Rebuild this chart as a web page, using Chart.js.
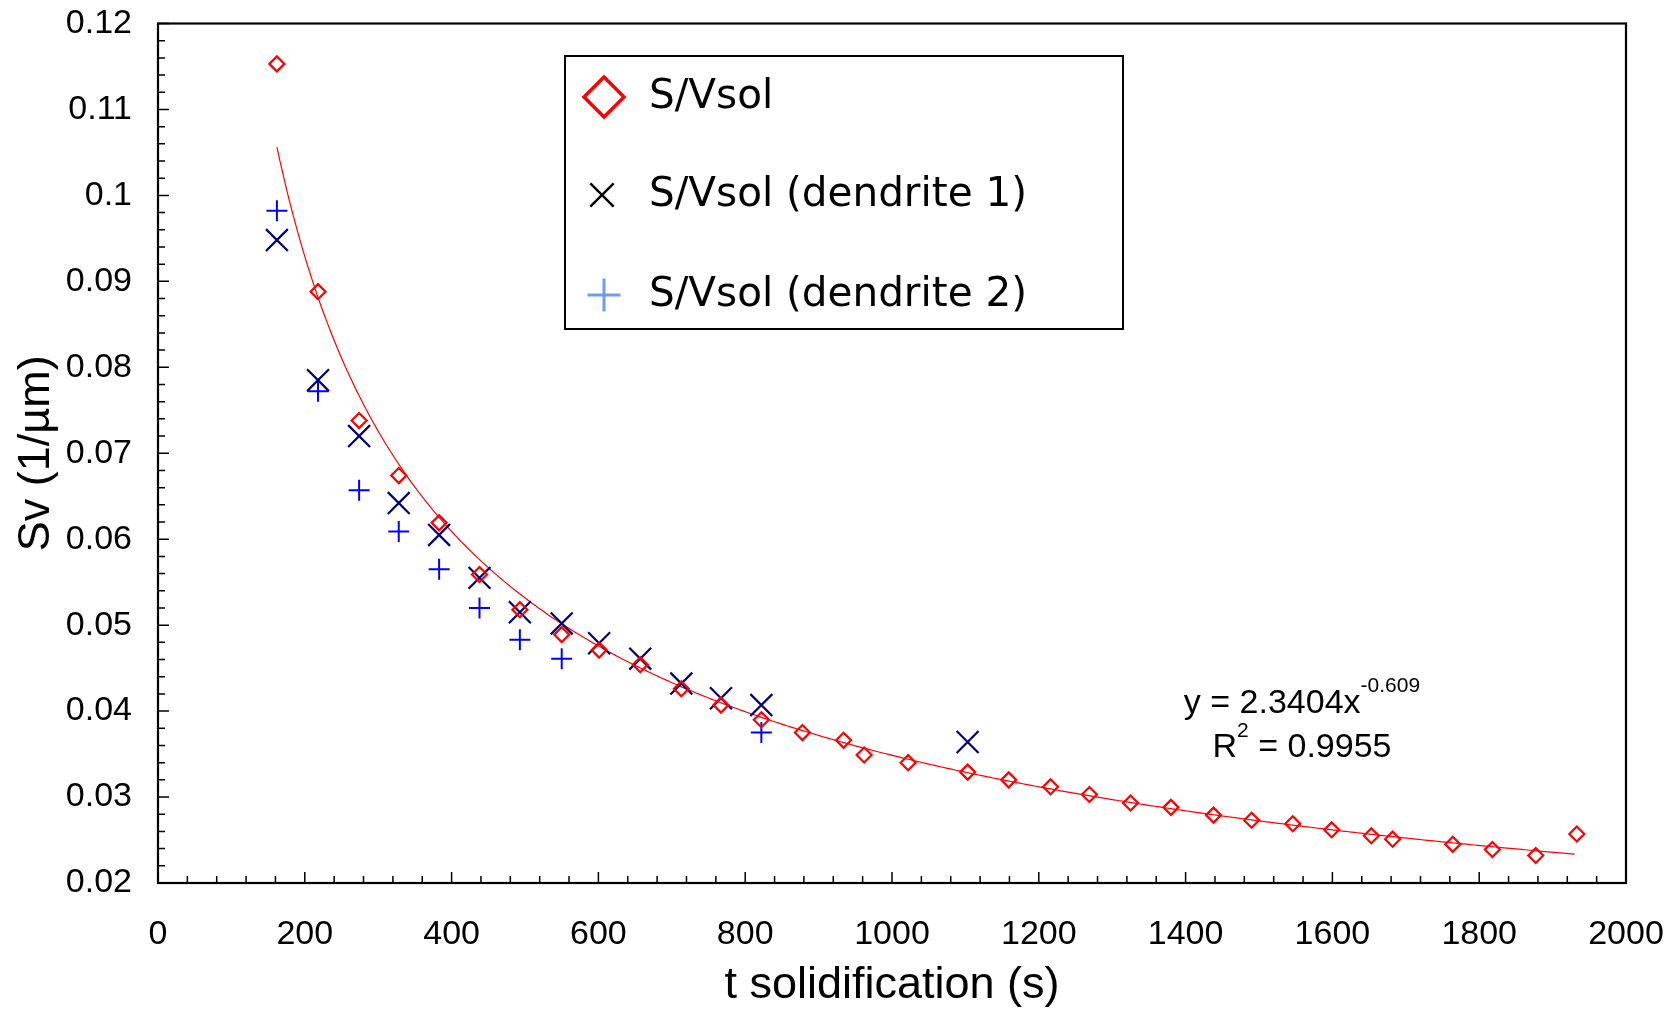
<!DOCTYPE html>
<html><head><meta charset="utf-8">
<script src="https://cdn.jsdelivr.net/npm/chart.js@4/dist/chart.umd.min.js"></script>
<style>html,body{margin:0;padding:0;background:#fff;}#wrap{width:1677px;height:1010px;}</style>
</head><body><div id="wrap"><canvas id="c" width="1677" height="1010"></canvas></div>
<script>
// ---- data ----
const seriesLabels = ['S/Vsol', 'S/Vsol (dendrite 1)', 'S/Vsol (dendrite 2)'];
const svolT  = [162, 218, 274, 328, 383, 438, 493, 550, 601, 657, 713, 767, 822, 878, 934, 962, 1022, 1103, 1159, 1216, 1269, 1325, 1380, 1438, 1490, 1546, 1599, 1653, 1682, 1764, 1818, 1877, 1933];
const svolSv = [0.1153, 0.0888, 0.0738, 0.0674, 0.0619, 0.0559, 0.0518, 0.0489, 0.0471, 0.0454, 0.0426, 0.0407, 0.0390, 0.0375, 0.0366, 0.0349, 0.0340, 0.0329, 0.0320, 0.0312, 0.0303, 0.0293, 0.0288, 0.0279, 0.0273, 0.0269, 0.0262, 0.0255, 0.0251, 0.0245, 0.0239, 0.0232, 0.0257];
const d1T  = [162, 218, 274, 328, 383, 438, 493, 550, 601, 657, 713, 767, 822, 1103];
const d1Sv = [0.0948, 0.0785, 0.0720, 0.0642, 0.0605, 0.0555, 0.0515, 0.0502, 0.0479, 0.0461, 0.0432, 0.0415, 0.0407, 0.0364];
const d2T  = [162, 218, 274, 328, 383, 438, 493, 550, 822];
const d2Sv = [0.0982, 0.0772, 0.0657, 0.0609, 0.0565, 0.0520, 0.0483, 0.0461, 0.0375];
const xTickLabels = ['0', '200', '400', '600', '800', '1000', '1200', '1400', '1600', '1800', '2000'];
const yTickLabels = ['0.02', '0.03', '0.04', '0.05', '0.06', '0.07', '0.08', '0.09', '0.1', '0.11', '0.12'];
const fitCoef = [2.3404, -0.609];   // y = a * x^b (trendline shown on the chart)
const fitRange = [162, 1933];
const fitR2 = '0.9955';
const xTitle = 't solidification (s)';
const yTitle = 'Sv (1/µm)';

const pts = (xs, ys) => xs.map((x, i) => ({x: x, y: ys[i]}));
const fitPts = [];
for (let x = fitRange[0]; x <= fitRange[1]; x += 4) fitPts.push({x: x, y: fitCoef[0] * Math.pow(x, fitCoef[1])});

const AX = "'Liberation Sans', Arial, sans-serif";
const LEG = "'Comic Sans MS', 'DejaVu Sans', sans-serif";

const legendItems = [
  {style: 'rectRot', radius: 20, lw: 3.5, color: '#FF0000'},
  {style: 'crossRot', radius: 16.5, lw: 2.5, color: '#000000'},
  {style: 'cross', radius: 16.5, lw: 3, color: '#6E9BF5'}
];

const zeroPad = s => { s.paddingTop = 0; s.paddingBottom = 0; s.paddingLeft = 0; s.paddingRight = 0; };

const framePlugin = {
  id: 'frame',
  afterDatasetsDraw(chart) {
    const ctx = chart.ctx, a = chart.chartArea;
    const xs = chart.scales.x, ys = chart.scales.y;
    ctx.save();
    ctx.strokeStyle = '#000';
    ctx.lineWidth = 1.5;
    ctx.beginPath();
    for (let i = 0; i <= 50; i++) {
      const px = xs.getPixelForValue(i * 40);
      const len = i % 5 === 0 ? 11 : 7;
      ctx.moveTo(px, a.bottom); ctx.lineTo(px, a.bottom - len);
    }
    for (let i = 0; i <= 50; i++) {
      const py = ys.getPixelForValue(0.02 + i * 0.002);
      const len = i % 5 === 0 ? 11 : 7;
      ctx.moveTo(a.left, py); ctx.lineTo(a.left + len, py);
    }
    ctx.stroke();
    ctx.lineWidth = 2.2;
    ctx.strokeRect(a.left, a.top, a.right - a.left, a.bottom - a.top);

    // trendline equation
    ctx.fillStyle = '#000';
    ctx.textBaseline = 'alphabetic';
    const big = '34px ' + AX, small = '21px ' + AX;
    const cx = 1302;
    ctx.font = big; const t1 = 'y = ' + fitCoef[0].toFixed(4) + 'x'; const w1 = ctx.measureText(t1).width;
    ctx.font = small; const s1 = String(fitCoef[1]); const ws1 = ctx.measureText(s1).width;
    let x0 = cx - (w1 + ws1) / 2;
    ctx.font = big; ctx.textAlign = 'left'; ctx.fillText(t1, x0, 713);
    ctx.font = small; ctx.fillText(s1, x0 + w1, 692);
    ctx.font = big; const wR = ctx.measureText('R').width; const t2 = ' = ' + fitR2; const w2 = ctx.measureText(t2).width;
    ctx.font = small; const wS = ctx.measureText('2').width;
    x0 = cx - (wR + wS + w2) / 2;
    ctx.font = big; ctx.fillText('R', x0, 757);
    ctx.font = small; ctx.fillText('2', x0 + wR, 737);
    ctx.font = big; ctx.fillText(t2, x0 + wR + wS, 757);

    // legend box
    const L = 565, T = 56, R = 1123, B = 329;
    ctx.fillStyle = '#fff';
    ctx.fillRect(L, T, R - L, B - T);
    ctx.strokeStyle = '#000'; ctx.lineWidth = 2;
    ctx.strokeRect(L, T, R - L, B - T);
    const rowsY = [97, 195, 295];
    const iconX = [604, 602, 604];
    legendItems.forEach((it, i) => {
      ctx.save();
      ctx.strokeStyle = it.color; ctx.fillStyle = 'rgba(0,0,0,0)'; ctx.lineWidth = it.lw;
      Chart.helpers.drawPoint(ctx, {pointStyle: it.style, radius: it.radius, rotation: 0, borderWidth: it.lw}, iconX[i], rowsY[i]);
      ctx.restore();
      ctx.fillStyle = '#000';
      ctx.font = '40.5px ' + LEG;
      ctx.textAlign = 'left'; ctx.textBaseline = 'middle';
      ctx.fillText(seriesLabels[i], 649, rowsY[i]);
    });
    ctx.restore();
  }
};

new Chart(document.getElementById('c'), {
  type: 'scatter',
  data: {
    datasets: [
      {label: seriesLabels[0], data: pts(svolT, svolSv), pointStyle: 'rectRot', pointRadius: 7.5, borderColor: '#FF0000', backgroundColor: 'rgba(0,0,0,0)', borderWidth: 2.2, showLine: false, order: 1},
      {label: seriesLabels[1], data: pts(d1T, d1Sv), pointStyle: 'crossRot', pointRadius: 15.5, borderColor: '#00007A', backgroundColor: 'rgba(0,0,0,0)', borderWidth: 2.2, showLine: false, order: 2},
      {label: seriesLabels[2], data: pts(d2T, d2Sv), pointStyle: 'cross', pointRadius: 10.5, borderColor: '#0000FF', backgroundColor: 'rgba(0,0,0,0)', borderWidth: 2, showLine: false, order: 3},
      {label: 'fit', type: 'line', data: fitPts, borderColor: '#FF0000', borderWidth: 1.2, pointRadius: 0, fill: false, tension: 0, showLine: true, order: 10}
    ]
  },
  options: {
    responsive: false,
    animation: false,
    devicePixelRatio: 1,
    layout: {padding: {top: 23.5, right: 51, left: 0, bottom: 0}},
    plugins: {legend: {display: false}, tooltip: {enabled: false}},
    scales: {
      x: {
        type: 'linear', min: 0, max: 2000,
        grid: {display: false, drawTicks: false},
        border: {display: false},
        ticks: {stepSize: 200, padding: 31, color: '#000', font: {family: AX, size: 34}, maxRotation: 0,
          callback: (v, i) => xTickLabels[i]},
        title: {display: true, text: xTitle, color: '#000', font: {family: AX, size: 45, lineHeight: 1}, padding: {top: 0, bottom: 1.5}},
        afterFit: s => { s.height = 127; zeroPad(s); }
      },
      y: {
        type: 'linear', min: 0.02, max: 0.12,
        grid: {display: false, drawTicks: false},
        border: {display: false},
        ticks: {stepSize: 0.01, padding: 26, color: '#000', font: {family: AX, size: 34},
          callback: (v, i) => yTickLabels[i]},
        title: {display: true, text: yTitle, color: '#000', font: {family: AX, size: 45, lineHeight: 1}, padding: {top: 14.5, bottom: 0}},
        afterFit: s => { s.width = 158; zeroPad(s); }
      }
    }
  },
  plugins: [framePlugin]
});
</script></body></html>
